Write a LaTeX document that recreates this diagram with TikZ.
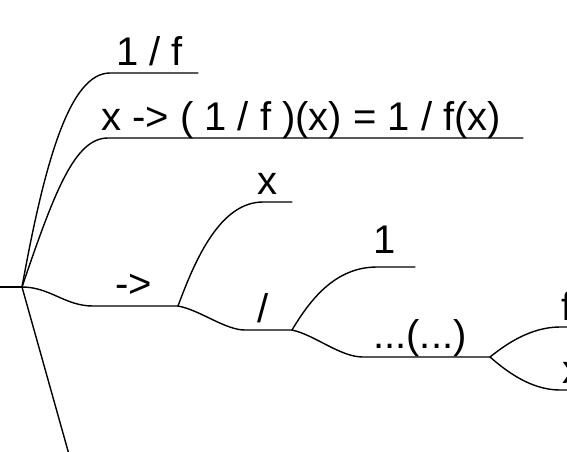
\documentclass[tikz,border=0pt]{standalone}
\usepackage{fontspec}
\setmainfont{Liberation Sans}
\tikzset{
  branch/.style={line width=1.4pt, line cap=round},
  lbl/.style={inner sep=0pt, anchor=base west, font=\fontsize{40}{48}\selectfont},
}
\begin{document}
\begin{tikzpicture}[x=1pt,y=-1pt]
\clip (0,0) rectangle (567,451);
\coordinate (L) at (0,287);
\coordinate (R) at (22,287);
\coordinate (b1s) at (110,73);  \coordinate (b1e) at (198,73);
\coordinate (b2s) at (108,138); \coordinate (b2e) at (523,138);
\coordinate (b3s) at (93,306);  \coordinate (A) at (178,306);
\coordinate (b4e) at (70,458);
\coordinate (ax) at (263,202);  \coordinate (axe) at (292,202);
\coordinate (ad) at (245,330);  \coordinate (B) at (292,330);
\coordinate (bo) at (377,267);  \coordinate (boe) at (415,267);
\coordinate (bd) at (363,357);  \coordinate (C) at (490,357);
\coordinate (cf) at (560,327);  \coordinate (cfe) at (600,327);
\coordinate (cx) at (560,390);  \coordinate (cxe) at (600,390);

\draw[branch] (L) -- (R);
\draw[branch] (R) .. controls +(23,-127) and +(-40,0) .. (b1s) -- (b1e);
\draw[branch] (R) .. controls +(33,-97) and +(-33,0) .. (b2s) -- (b2e);
\draw[branch] (R) .. controls +(28,0) and +(-28,0) .. (b3s) -- (A);
\draw[branch] (R) -- (b4e);
\draw[branch] (A) .. controls +(17,-46) and +(-43,0) .. (ax) -- (axe);
\draw[branch] (A) .. controls +(22,4) and +(-20,0) .. (ad) -- (B);
\draw[branch] (B) .. controls +(18,-30) and +(-42,0) .. (bo) -- (boe);
\draw[branch] (B) .. controls +(23,5) and +(-23,0) .. (bd) -- (C);
\draw[branch] (C) .. controls +(15,-12) and +(-30,0) .. (cf) -- (cfe);
\draw[branch] (C) .. controls +(15,13) and +(-30,0) .. (cx) -- (cxe);

\node[lbl] (t1) at (116,65) {1 / f};
\node[lbl] (t2) at (101,130) {x -> ( 1 / f )(x) = 1 / f(x)};
\node[lbl] (t3) at (115,297) {->};
\node[lbl] (t4) at (257,194) {x};
\node[lbl] (t5) at (257,322) {/};
\node[lbl] (t6) at (373,253) {1};
\node[lbl] (t7) at (373,348) {...(...)};
\node[lbl] (t8) at (561,320) {f};
\node[lbl] (t9) at (562,383) {x};
\end{tikzpicture}
\end{document}
